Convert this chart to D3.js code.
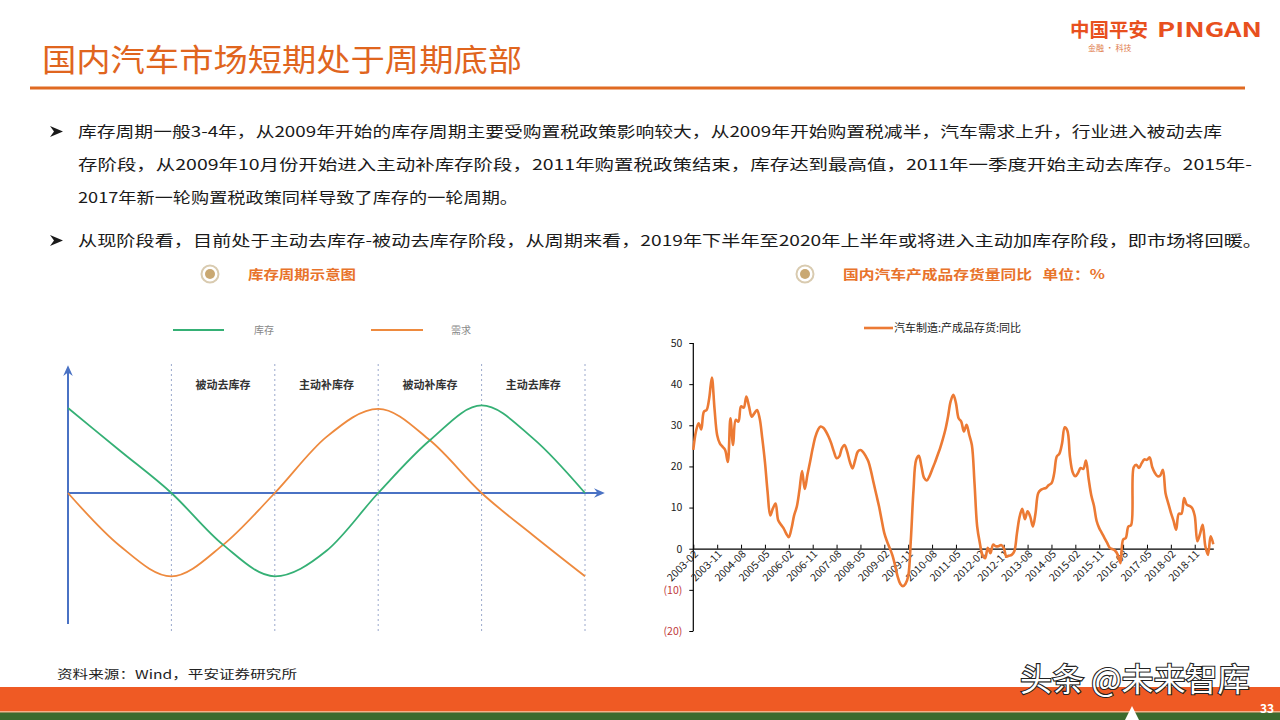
<!DOCTYPE html>
<html><head><meta charset="utf-8">
<script src="https://cdn.jsdelivr.net/npm/d3@7"></script>
<style>
html,body{margin:0;padding:0;background:#fff;}
svg{display:block;}
text{font-family:"Noto Sans CJK SC","Noto Sans",sans-serif;}
</style></head>
<body>
<svg id="c" width="1280" height="720"></svg>
<script>
// ---------- data ----------
const title = "国内汽车市场短期处于周期底部";
const bulletLines = [
  "库存周期一般3-4年，从2009年开始的库存周期主要受购置税政策影响较大，从2009年开始购置税减半，汽车需求上升，行业进入被动去库",
  "存阶段，从2009年10月份开始进入主动补库存阶段，2011年购置税政策结束，库存达到最高值，2011年一季度开始主动去库存。2015年-",
  "2017年新一轮购置税政策同样导致了库存的一轮周期。",
  "从现阶段看，目前处于主动去库存-被动去库存阶段，从周期来看，2019年下半年至2020年上半年或将进入主动加库存阶段，即市场将回暖。"
];
// schematic cycle chart
const phaseLabels = ["被动去库存","主动补库存","被动补库存","主动去库存"];
const cyclePos   = [0,0.5,1,1.5,2,2.5,3,3.5,4,4.5,5];
const inventory  = [1.0,0.5,0,-0.61,-0.98,-0.68,0,0.62,1.03,0.64,0];
const demand     = [0,-0.62,-0.98,-0.61,0,0.66,0.99,0.62,0,-0.5,-0.98];
const cycleLegend = ["库存","需求"];
// YoY inventory series, monthly 2003-02 .. 2019-06
const seriesName = "汽车制造:产成品存货:同比";
const yoy = [
 24,28.5,30.5,29,33.3,33.7,36.6,41.6,34,27.6,25.6,24.8,24,21.1,31.7,25.2,31.3,30.9,34.6,34.3,
 37,34.6,32.1,32.9,33.7,31.7,26.8,21.1,13.8,8.1,9.8,11,6.9,5.9,5,3.7,2.8,4.9,8.1,10.2,
 14.2,18.9,14.5,17.9,21.1,24.4,27.2,28.9,29.7,29.4,28.5,27.2,25.6,23.6,22,22.4,24.4,25.2,23.6,21.1,
 19.5,21.5,23.6,24,23.5,22.5,21.2,18.8,15.9,13.1,10.3,7,3.8,1.8,0.2,-1.5,-3.9,-6.7,-8.5,-9.1,
 -8.5,-6.7,2.2,14.3,21.6,22.6,20,17.2,16.6,17.6,19.2,20.8,22.6,24.4,26.5,28.9,32.1,35.8,37.4,35.4,
 31.7,30.9,28.5,30.1,27.7,25.2,15.9,5.4,1.4,-1.5,-2.3,0.2,-1.1,1,0.6,0.6,0.9,0.2,-1.9,-1.7,
 -1.5,-0.6,3.8,7.8,9.7,7.2,9.1,7.8,5.4,8.7,13.5,14.3,14.6,14.8,15.5,15.9,18.2,22.4,23.1,25.6,
 29.5,28.7,22.2,18.6,17.6,18.4,19.6,19.4,21.4,17,13,10.5,6.8,5,3.8,2.6,1.4,0.2,-0.1,-0.5,
 -1.5,-3.5,2.2,2.6,5.4,5.7,19.8,20.4,19.6,20.8,21.7,21.6,22.2,19.8,18.4,17.6,17.8,19.2,13.5,11.1,
 8.8,6.8,4.6,8.5,8.5,12.3,10.7,10.4,9.9,8,1.8,3.6,5.8,0.6,-1.5,3,1.1
];
const xTickLabels = ["2003-02","2003-11","2004-08","2005-05","2006-02","2006-11","2007-08","2008-05",
 "2009-02","2009-11","2010-08","2011-05","2012-02","2012-11","2013-08","2014-05","2015-02","2015-11",
 "2016-08","2017-05","2018-02","2018-11"];
const yTicks = [50,40,30,20,10,0,-10,-20];
const sourceText = "资料来源：Wind，平安证券研究所";

// ---------- drawing ----------
const svg = d3.select("#c");
svg.append("rect").attr("width",1280).attr("height",720).attr("fill","#fff");

// header
svg.append("text").attr("x",42).attr("y",71).attr("font-size",31).attr("fill","#E0651E")
  .attr("textLength",480).attr("lengthAdjust","spacingAndGlyphs").text(title);
svg.append("rect").attr("x",30).attr("y",86.5).attr("width",1215).attr("height",3).attr("fill","#E06A22");
// logo
svg.append("text").attr("x",1070).attr("y",37).attr("font-size",19).attr("font-weight",700)
  .attr("fill","#E8501E").attr("textLength",78).attr("lengthAdjust","spacingAndGlyphs").text("中国平安");
svg.append("text").attr("x",1157).attr("y",37).attr("font-size",20).attr("font-weight",700)
  .attr("font-family","Liberation Sans, Arial, sans-serif")
  .attr("fill","#E8501E").attr("textLength",105).attr("lengthAdjust","spacingAndGlyphs").text("PINGAN");
svg.append("text").attr("x",1088).attr("y",51).attr("font-size",8).attr("fill","#E07A4A").text("金融 · 科技");

// bullets
const bx = 78, bys = [137,170,203,246];
const bw = [1144,1174,440,1184];
bulletLines.forEach((t,i)=>{
  svg.append("text").attr("x",bx).attr("y",bys[i]).attr("font-size",15).attr("fill","#1a1a1a")
    .attr("textLength",bw[i]).attr("lengthAdjust","spacingAndGlyphs").text(t);
});
[137,246].forEach(y=>{
  svg.append("path").attr("d",`M50,${y-11} L63,${y-5.5} L50,${y} L54,${y-5.5} Z`).attr("fill","#1a1a1a");
});

// sub headings
function subHead(cx, tx, label, w){
  svg.append("circle").attr("cx",cx).attr("cy",274).attr("r",8.5).attr("fill","#fff")
    .attr("stroke","#D9CBB0").attr("stroke-width",2);
  svg.append("circle").attr("cx",cx).attr("cy",274).attr("r",5).attr("fill","#C9A872");
  svg.append("text").attr("x",tx).attr("y",279).attr("font-size",13).attr("font-weight",700)
    .attr("fill","#E8732B").attr("textLength",w).attr("lengthAdjust","spacingAndGlyphs").text(label);
}
subHead(210,248,"库存周期示意图",108);
subHead(805,843,"国内汽车产成品存货量同比\u00A0\u00A0\u00A0单位：%",262);

// ---------- left schematic ----------
const L = svg.append("g");
const cx = d3.scaleLinear().domain([0,5]).range([68,585]);
const cy = d3.scaleLinear().domain([-1,1]).range([578,408]);
const green = "#35B075", orange = "#EE8A3E", axisBlue = "#4A72C4";
// legend
[[green,173,224,254],[orange,371,423,451]].forEach((d,i)=>{
  L.append("line").attr("x1",d[1]).attr("x2",d[2]).attr("y1",330).attr("y2",330)
   .attr("stroke",d[0]).attr("stroke-width",2.2);
  L.append("text").attr("x",d[3]).attr("y",334).attr("font-size",10).attr("fill","#888").text(cycleLegend[i]);
});
// dotted verticals
[1,2,3,4,5].forEach(t=>{
  L.append("line").attr("x1",cx(t)).attr("x2",cx(t)).attr("y1",364).attr("y2",632)
   .attr("stroke","#9AA8CC").attr("stroke-width",1).attr("stroke-dasharray","2,3");
});
phaseLabels.forEach((p,i)=>{
  L.append("text").attr("x",cx(i+1.5)).attr("y",389).attr("text-anchor","middle")
   .attr("font-size",11).attr("font-weight",700).attr("fill","#333").text(p);
});
// axes with arrows
const defs = svg.append("defs");
defs.append("marker").attr("id","arr").attr("viewBox","0 0 10 10").attr("refX",5).attr("refY",5)
  .attr("markerWidth",6).attr("markerHeight",6).attr("orient","auto")
  .append("path").attr("d","M0,1 L9,5 L0,9 L3,5 Z").attr("fill",axisBlue);
L.append("line").attr("x1",68).attr("y1",624).attr("x2",68).attr("y2",370)
  .attr("stroke",axisBlue).attr("stroke-width",2).attr("marker-end","url(#arr)");
L.append("line").attr("x1",68).attr("y1",cy(0)).attr("x2",600).attr("y2",cy(0))
  .attr("stroke",axisBlue).attr("stroke-width",2).attr("marker-end","url(#arr)");
const cl = d3.line().x((d,i)=>cx(cyclePos[i])).y(d=>cy(d)).curve(d3.curveMonotoneX);
L.append("path").attr("d",cl(demand)).attr("fill","none").attr("stroke",orange).attr("stroke-width",1.8);
L.append("path").attr("d",cl(inventory)).attr("fill","none").attr("stroke",green).attr("stroke-width",1.8);

// ---------- right line chart ----------
const R = svg.append("g");
const x = d3.scaleLinear().domain([0,196]).range([693.3,1213.3]);
const y = d3.scaleLinear().domain([-20,50]).range([631,343]);
const fmt = v => v<0 ? "("+(-v)+")" : String(v);
const yAx = R.append("g").attr("transform","translate(693.3,0)")
  .call(d3.axisLeft(y).tickValues(yTicks).tickSize(4).tickPadding(7).tickFormat(fmt));
yAx.select(".domain").attr("stroke","#000").attr("stroke-width",1.2).attr("d","M0,631V343");
yAx.selectAll("line").attr("stroke","#000");
yAx.selectAll("text").attr("font-family","Liberation Sans, Arial, sans-serif").attr("font-size",10.5)
  .attr("fill",d=>d<0?"#C0393B":"#222");
const tickIdx = xTickLabels.map((l,i)=>i*9);
const xAx = R.append("g").attr("transform",`translate(0,${y(0)})`)
  .call(d3.axisBottom(x).tickValues(tickIdx).tickSizeInner(-4).tickSizeOuter(0)
    .tickFormat((d,i)=>xTickLabels[i]));
xAx.select(".domain").attr("stroke","#000").attr("stroke-width",1.2);
xAx.selectAll("line").attr("stroke","#000");
xAx.selectAll("text").attr("font-family","Liberation Sans, Arial, sans-serif").attr("font-size",10.5)
  .attr("fill","#222").attr("text-anchor","end").attr("dy",0).attr("y",0)
  .attr("transform","translate(5,6) rotate(-45)");
const line = d3.line().x((d,i)=>x(i)).y(d=>y(d)).curve(d3.curveCatmullRom.alpha(0.5));
R.append("path").attr("d",line(yoy)).attr("fill","none").attr("stroke","#EC7A34").attr("stroke-width",2.6)
  .attr("stroke-linejoin","round");
// legend
R.append("line").attr("x1",864).attr("x2",893).attr("y1",328).attr("y2",328)
  .attr("stroke","#EC7A34").attr("stroke-width",2.6);
R.append("text").attr("x",894).attr("y",332).attr("font-size",11).attr("fill","#222").text(seriesName);

// ---------- footer ----------
svg.append("text").attr("x",57).attr("y",679).attr("font-size",12).attr("fill","#222")
  .attr("textLength",240).attr("lengthAdjust","spacingAndGlyphs").text(sourceText);
svg.append("rect").attr("x",0).attr("y",687).attr("width",1280).attr("height",25).attr("fill","#EF5A24");
svg.append("rect").attr("x",0).attr("y",712).attr("width",1280).attr("height",8).attr("fill","#3B6A2E");
svg.append("rect").attr("x",0).attr("y",711).attr("width",1280).attr("height",1.5).attr("fill","#F6B08A");
svg.append("path").attr("d","M1125,720 L1132,706 L1139,720 Z").attr("fill","#fff");
svg.append("text").attr("x",1020).attr("y",691).attr("font-size",32)
  .attr("fill","#fff").attr("stroke","#222").attr("stroke-width",2.2).attr("paint-order","stroke")
  .text("头条 @未来智库");
svg.append("text").attr("x",1260).attr("y",713).attr("font-size",12).attr("font-weight",700)
  .attr("font-family","Liberation Sans, Arial, sans-serif").attr("fill","#fff").text("33");
</script>
</body></html>
